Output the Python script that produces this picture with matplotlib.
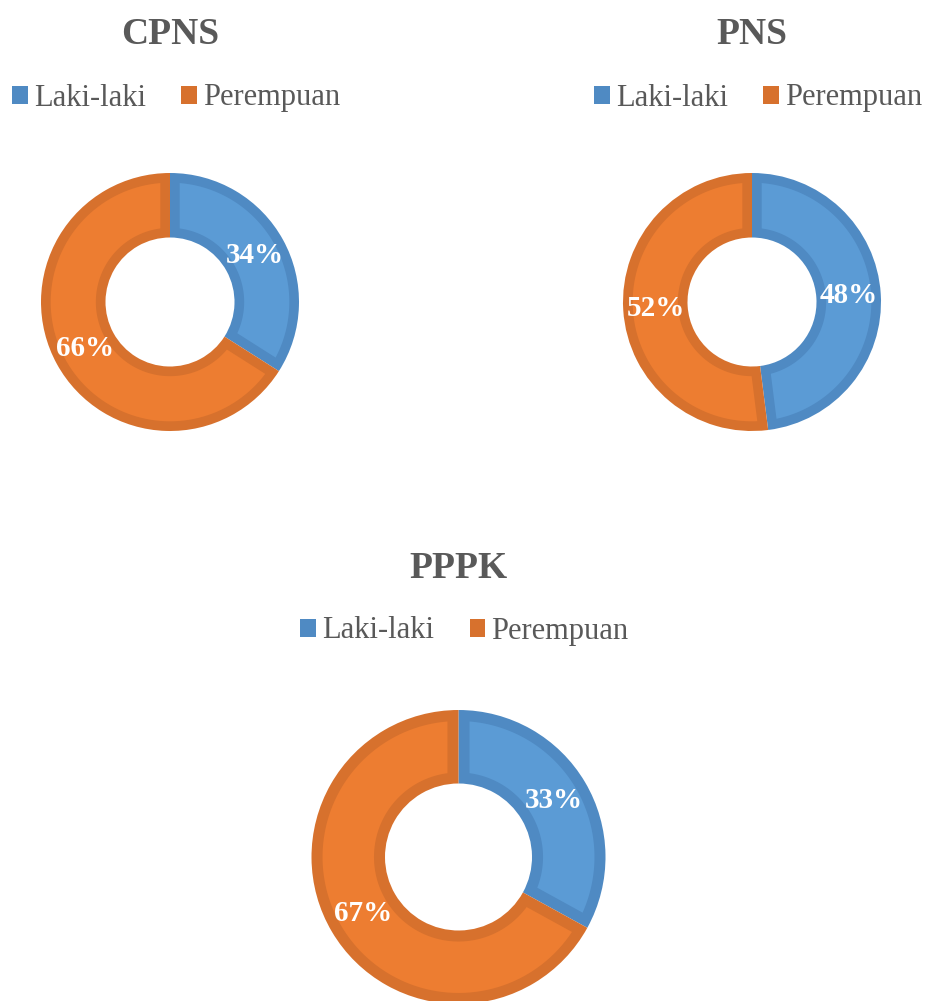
import matplotlib
matplotlib.use('Agg')
import matplotlib.pyplot as plt
import numpy as np
from matplotlib.patches import Patch, Polygon

plt.rcParams['font.family'] = ['Liberation Serif', 'DejaVu Serif']

# data
categories = ['Laki-laki', 'Perempuan']
titles = ['CPNS', 'PNS', 'PPPK']
cpns_values = [34, 66]
pns_values = [48, 52]
pppk_values = [33, 67]

fill_colors = ['#5B9BD5', '#ED7D31']
edge_colors = ['#4F8AC3', '#D7712D']
text_gray = '#595959'

W, H = 928, 1001
fig = plt.figure(figsize=(W / 100, H / 100), dpi=100)

HOLE = 0.5      # inner radius of the ring
BORDER = 0.075  # width of the darker inner border, in radius units


def inset_wedge(theta1, theta2, r_out, r_in, d):
    """polygon of an annular sector shrunk by d on every side"""
    ro, ri = r_out - d, r_in + d
    ao = np.degrees(np.arcsin(d / ro))
    ai = np.degrees(np.arcsin(d / ri))
    t_out = np.radians(np.linspace(theta1 + ao, theta2 - ao, 100))
    t_in = np.radians(np.linspace(theta2 - ai, theta1 + ai, 100))
    xs = np.concatenate([ro * np.cos(t_out), ri * np.cos(t_in)])
    ys = np.concatenate([ro * np.sin(t_out), ri * np.sin(t_in)])
    return np.column_stack([xs, ys])


# (values, title, centre x, centre y, radius, title y, legend y) in pixels
panels = [
    (cpns_values, titles[0], 170, 302, 129, 35, 98),
    (pns_values, titles[1], 752, 302, 129, 35, 98),
    (pppk_values, titles[2], 458.5, 857, 147, 568, 631),
]

for values, title, cx, cy, r, ty, ly in panels:
    ax = fig.add_axes([(cx - r) / W, (H - cy - r) / H, 2 * r / W, 2 * r / H])
    wedges, _, autotexts = ax.pie(
        values, colors=edge_colors, startangle=90, counterclock=False,
        radius=1, autopct='%d%%', pctdistance=0.75,
        wedgeprops=dict(width=1 - HOLE, linewidth=0),
        textprops=dict(color='white', fontsize=21, fontweight='bold'))
    for w, fc in zip(wedges, fill_colors):
        poly = Polygon(inset_wedge(w.theta1, w.theta2, 1, HOLE, BORDER),
                       closed=True, facecolor=fc, edgecolor='none', zorder=w.zorder)
        ax.add_patch(poly)
    for t in autotexts:
        t.set_zorder(5)
    ax.set_xlim(-1, 1)
    ax.set_ylim(-1, 1)
    ax.axis('off')

    fig.text(cx / W, 1 - ty / H, title, ha='center', va='center',
             fontsize=27, fontweight='bold', color=text_gray)

    handles = [Patch(facecolor=c, edgecolor='none') for c in edge_colors]
    fig.legend(handles, categories, loc='center',
               bbox_to_anchor=((cx + 6) / W, 1 - ly / H),
               ncol=2, frameon=False, fontsize=22, labelcolor=text_gray,
               handlelength=0.52, handleheight=0.52, handletextpad=0.2,
               columnspacing=1.15, borderpad=0)

fig.savefig('out.png', dpi=100)
